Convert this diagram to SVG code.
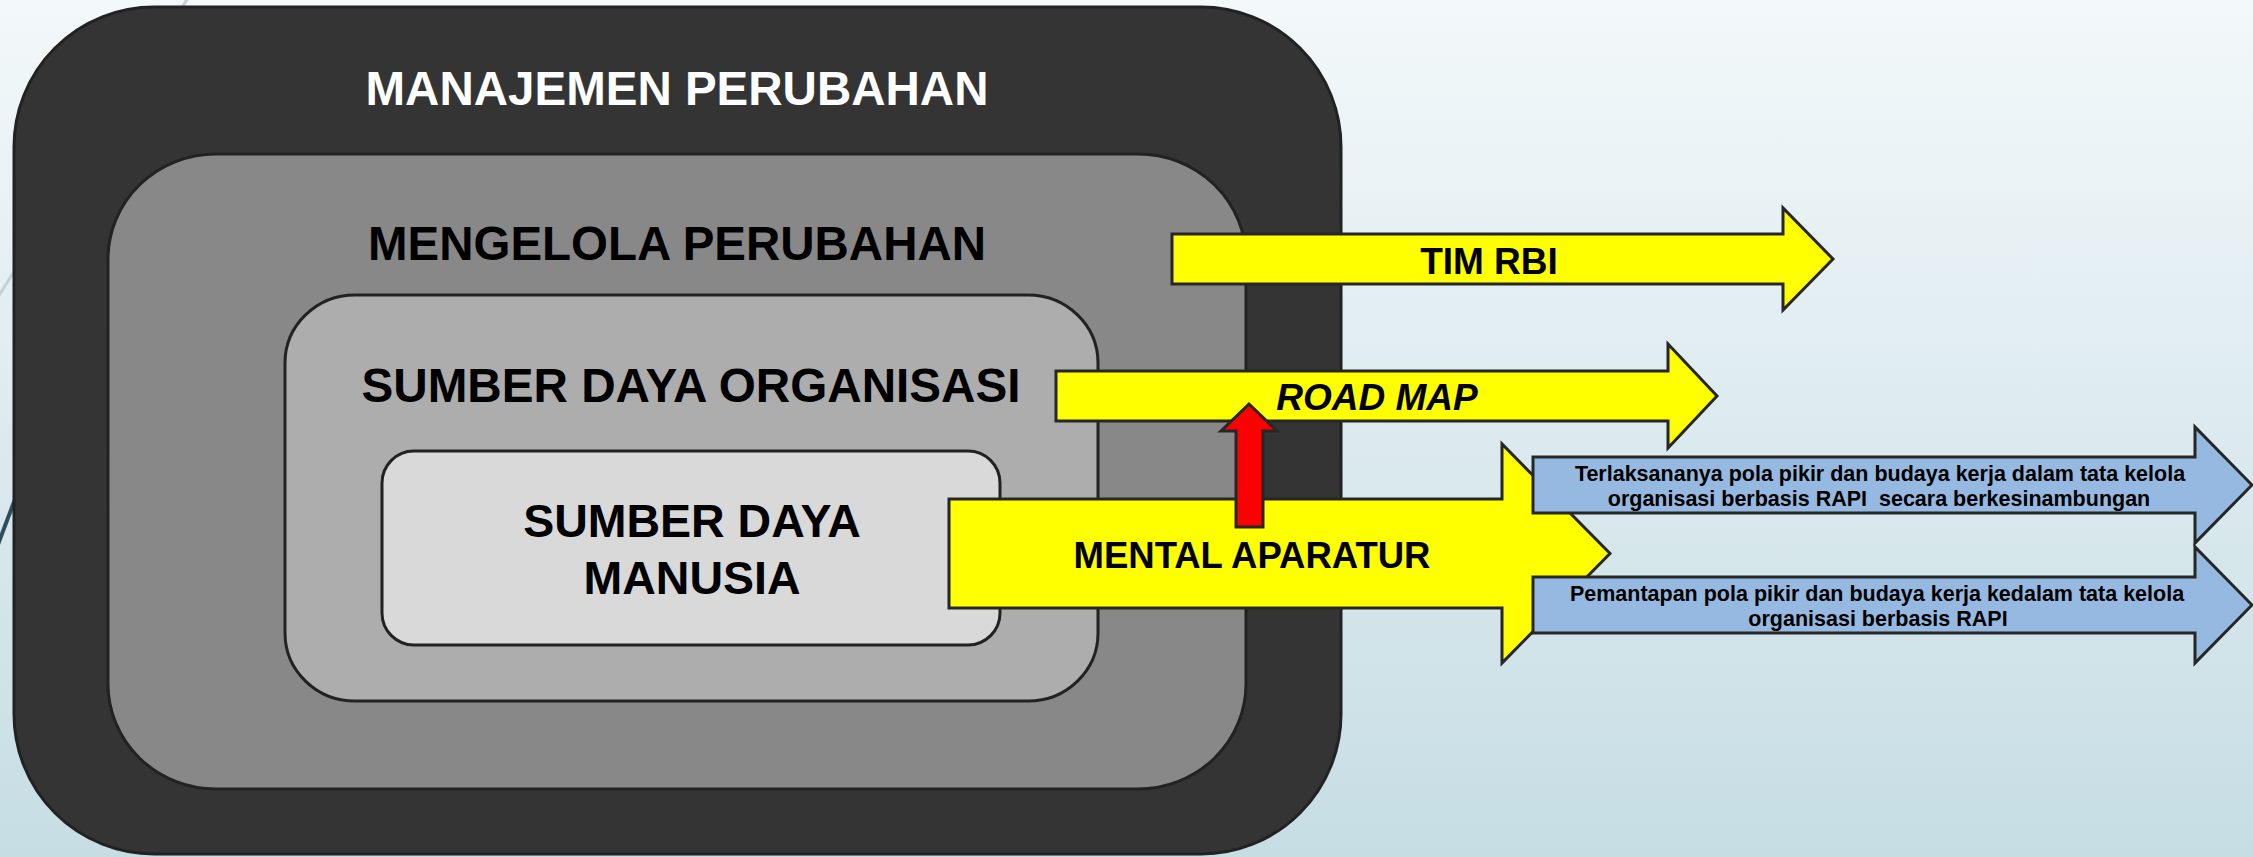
<svg xmlns="http://www.w3.org/2000/svg" width="2253" height="857" viewBox="0 0 2253 857">
<defs>
<linearGradient id="bg" x1="0" y1="0" x2="0" y2="1">
<stop offset="0" stop-color="#f3f8fa"/>
<stop offset="1" stop-color="#c6dde4"/>
</linearGradient>
<style>
.box{stroke:#222;stroke-width:3}
.arr{stroke:#262626;stroke-width:3;stroke-linejoin:miter}
.t{font-family:"Liberation Sans",Arial,sans-serif;font-weight:bold;text-anchor:middle}
.big{font-size:47.5px}
.mid{font-size:37px}
.sm{font-size:21.5px}
</style>
</defs>
<rect x="0" y="0" width="2253" height="857" fill="url(#bg)"/>
<g id="decor">
<line x1="188" y1="-2" x2="-4" y2="300" stroke="#c3d2d9" stroke-width="3"/>
<line x1="60" y1="380" x2="-6" y2="555" stroke="#2e4d63" stroke-width="4"/>
</g>
<g id="manajemen-perubahan">
<rect class="box" x="14" y="7" width="1327" height="847" rx="140" ry="140" fill="#343434"/>
<text class="t big" x="677" y="105" fill="#fff" textLength="623" lengthAdjust="spacingAndGlyphs">MANAJEMEN PERUBAHAN</text>
</g>
<g id="mengelola-perubahan">
<rect class="box" x="108" y="154" width="1138" height="635" rx="108" ry="105" fill="#888"/>
<text class="t big" x="677" y="260" fill="#000" textLength="618" lengthAdjust="spacingAndGlyphs">MENGELOLA PERUBAHAN</text>
</g>
<g id="sumber-daya-organisasi">
<rect class="box" x="285" y="295" width="813" height="406" rx="70" ry="68" fill="#adadad"/>
<text class="t big" x="691" y="402" fill="#000" textLength="659" lengthAdjust="spacingAndGlyphs">SUMBER DAYA ORGANISASI</text>
</g>
<g id="sumber-daya-manusia">
<rect class="box" x="382" y="451" width="618" height="194" rx="32" ry="32" fill="#d9d9d9"/>
<text class="t" x="692" y="537" font-size="46.5" fill="#000">SUMBER DAYA</text>
<text class="t" x="692" y="594" font-size="46.5" fill="#000">MANUSIA</text>
</g>
<g id="tim-rbi">
<polygon class="arr" fill="#ffff00" points="1172,234 1783,234 1783,208 1833,259 1783,310 1783,284 1172,284"/>
<text class="t mid" x="1489" y="274">TIM RBI</text>
</g>
<g id="road-map">
<polygon class="arr" fill="#ffff00" points="1056,371 1668,371 1668,344 1717,396 1668,448 1668,421 1056,421"/>
<text class="t mid" x="1377" y="410" font-style="italic">ROAD MAP</text>
</g>
<g id="mental-aparatur">
<polygon class="arr" fill="#ffff00" points="949,499 1502,499 1502,444 1610,553.5 1502,663 1502,608 949,608"/>
<text class="t" x="1252" y="568" font-size="36.5">MENTAL APARATUR</text>
</g>
<g id="connectors">
<polygon class="arr" fill="#ff0000" points="1236,527 1236,431 1221,431 1249,404 1277,431 1263,431 1263,527"/>
</g>
<g id="terlaksananya">
<polygon class="arr" fill="#95b9e1" points="1533,457 2195,457 2195,427 2252,485 2195,543 2195,513 1533,513"/>
<text class="t sm" x="1880" y="481">Terlaksananya pola pikir dan budaya kerja dalam tata kelola</text>
<text class="t sm" x="1879" y="506">organisasi berbasis RAPI &#160;secara berkesinambungan</text>
</g>
<g id="pemantapan">
<polygon class="arr" fill="#95b9e1" points="1533,577 2195,577 2195,547 2252,605 2195,663 2195,633 1533,633"/>
<text class="t sm" x="1877" y="601">Pemantapan pola pikir dan budaya kerja kedalam tata kelola</text>
<text class="t sm" x="1878" y="626">organisasi berbasis RAPI</text>
</g>
</svg>
